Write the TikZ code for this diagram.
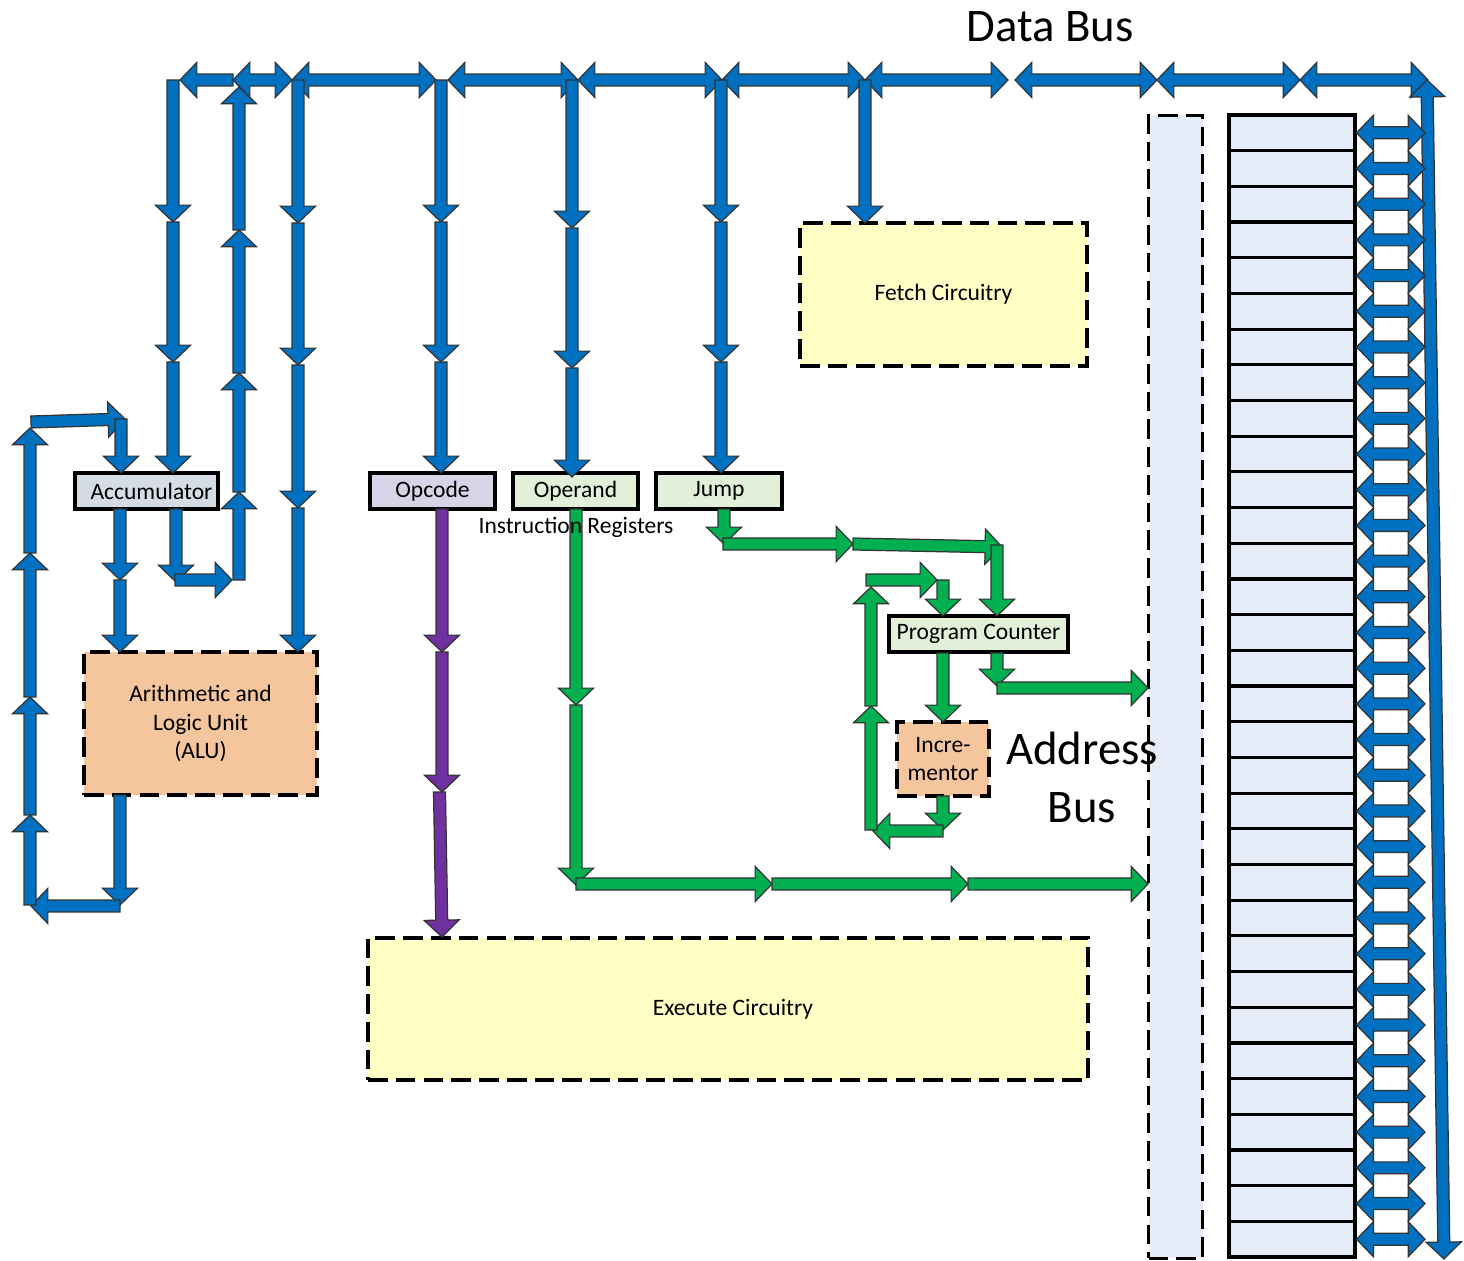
\documentclass[tikz,border=0pt]{standalone}
\usepackage{fontspec}
\setmainfont{Carlito}
\usepackage{tikz}
\usetikzlibrary{positioning,calc}
\usepackage{xcolor}

\definecolor{busblue}{HTML}{0070C0}
\definecolor{ctlgreen}{HTML}{00B050}
\definecolor{opcpurple}{HTML}{7030A0}
\definecolor{accfill}{HTML}{D6DCE5}
\definecolor{opcfill}{HTML}{D9D3E7}
\definecolor{regfill}{HTML}{E2F0D9}
\definecolor{alufill}{HTML}{F5C59D}
\definecolor{circfill}{HTML}{FFFFC5}
\definecolor{memfill}{HTML}{E5ECF7}

\newcommand\smalltext{\fontsize{6.7}{8.2}\selectfont}
\newcommand\bigtext{\fontsize{13.3}{16.5}\selectfont}

\tikzset{
  blockarrow/.style={draw=black!80,line width=0.35pt},
  regbox/.style={draw=black,line width=0.9pt,inner sep=0pt,minimum height=3.6mm,font=\smalltext},
  unitbox/.style={draw=black,line width=1pt,dash pattern=on 5.6pt off 2.3pt,inner sep=0pt,align=center,font=\smalltext},
  memcell/.style={draw=black,line width=0.9pt,fill=memfill,minimum width=12.6mm,minimum height=3.569mm,inner sep=0pt},
  buslabel/.style={font=\bigtext,align=center,inner sep=0pt},
}

% length and angle of a block arrow
\newcommand\arrowgeom[2]{%
  \path (#1) coordinate (arA) (#2) coordinate (arB);
  \pgfpointdiff{\pgfpointanchor{arA}{center}}{\pgfpointanchor{arB}{center}}%
  \pgfgetlastxy{\ardx}{\ardy}%
  \pgfmathsetmacro\arlen{veclen(\ardx,\ardy)}%
  \pgfmathsetmacro\arang{atan2(\ardy,\ardx)}%
  \pgfmathsetmacro\arneck{\arlen-4.8}}

\newcommand\blkarrow[3][busblue]{%
  \arrowgeom{#2}{#3}%
  \begin{scope}[shift={(arA)},rotate=\arang]
    \filldraw[blockarrow,fill=#1] (0pt,-1.7pt) -- (\arneck pt,-1.7pt) -- (\arneck pt,-5pt)
      -- (\arlen pt,0pt) -- (\arneck pt,5pt) -- (\arneck pt,1.7pt) -- (0pt,1.7pt) -- cycle;
  \end{scope}}

\newcommand\dblarrow[3][busblue]{%
  \arrowgeom{#2}{#3}%
  \begin{scope}[shift={(arA)},rotate=\arang]
    \filldraw[blockarrow,fill=#1] (0pt,0pt) -- (4.8pt,5pt) -- (4.8pt,1.7pt) -- (\arneck pt,1.7pt)
      -- (\arneck pt,5pt) -- (\arlen pt,0pt) -- (\arneck pt,-5pt) -- (\arneck pt,-1.7pt)
      -- (4.8pt,-1.7pt) -- (4.8pt,-5pt) -- cycle;
  \end{scope}}

% chain of block arrows through x/y points
\newcommand\arrowchain[3][busblue]{%
  \foreach \px/\py [count=\i] in {#3} {%
    \coordinate (#2-\i) at (\px,\py);
    \ifnum\i>1 \pgfmathtruncatemacro\j{\i-1}\blkarrow[#1]{#2-\j}{#2-\i}\fi}}

\begin{document}
\begin{tikzpicture}[x=0.1mm,y=-0.1mm]
\useasboundingbox (0,0) rectangle (1464,1261);

% boxes
\node[regbox,fill=accfill,minimum width=14.3mm] (acc) at (146.5,491) {\hspace{1mm}Accumulator};
\node[unitbox,fill=alufill,minimum width=23.3mm,minimum height=14.3mm] (alu) at (200.5,723.5) {Arithmetic and\\Logic Unit\\(ALU)\hspace{-1mm}};
\node[regbox,fill=opcfill,minimum width=12.5mm] (opc) at (432.5,491) {Opcode};
\node[regbox,fill=regfill,minimum width=12.5mm] (opd) at (575.5,491) {Operand};
\node[regbox,fill=regfill,minimum width=12.6mm] (jmp) at (719,491) {Jump};
\node[unitbox,fill=circfill,minimum width=28.7mm,minimum height=14.3mm] (fetch) at (943.5,294.5) {Fetch Circuitry};
\node[unitbox,fill=circfill,minimum width=72mm,minimum height=14.2mm] (exec) at (728,1009) {\hspace{1mm}Execute Circuitry};
\node[regbox,fill=regfill,minimum width=17.9mm] (pc) at (978.5,634) {Program Counter};
\node[unitbox,fill=alufill,minimum width=9.2mm,minimum height=7.4mm] (inc) at (943,759) {Incre-\\mentor};
\node[unitbox,fill=memfill,minimum width=5.4mm,minimum height=114.3mm] (abus) at (1175.5,687) {};
\foreach \i in {0,...,31}
  \node[memcell] (cell\i) at (1292,{115+35.69*(\i+0.5)}) {};

% data bus
\foreach \n/\x in {d0/180,d1/233,d2/292,d3/436,d4/448,d5/578,d6/722,d7/865,d8/1008,d9/1015,d10/1157,d11/1300,d12/1428}
  \coordinate (\n) at (\x,80);
\blkarrow{d1}{d0}
\foreach \a/\b in {d1/d2,d2/d3,d4/d5,d5/d6,d6/d7,d7/d8,d9/d10,d10/d11,d11/d12}
  {\dblarrow{\a}{\b}}
\coordinate (rtop) at (1427,80);
\coordinate (rbot) at (1444,1259);
\dblarrow{rtop}{rbot}
\foreach \i in {0,...,31}{
  \coordinate (tap\i) at (1425,{115+35.69*(\i+0.5)});
  \dblarrow{cell\i.east}{tap\i}}

% bus taps
\arrowchain{ca}{173/80,173/222,173/362,173/473}
\arrowchain{cb}{239/580,239/492,239/373,239/230,239/87}
\arrowchain{cc}{298/80,298/223,298/365,298/508,298/652}
\arrowchain{cd}{441/80,441/222,441/362,441/473}
\arrowchain{ce}{572/80,572/228,572/368,572/477}
\arrowchain{cf}{721/80,721/222,721/362,721/473}
\arrowchain{cg}{865/80,865/223}

% accumulator and ALU loop
\arrowchain{accalu}{120/509,120/580,120/652}
\arrowchain{accout}{176/509,176/582}
\arrowchain{accret}{175/580,232/580}
\arrowchain{aluout}{120/795,120/905}
\arrowchain{aluret}{120/906,31/906}
\arrowchain{loopup}{30/905,30/815,30/697,30/553,30/428}
\arrowchain{looptop}{31/422,125/419}
\arrowchain{loopin}{121/419,121/473}

% opcode to execute
\arrowchain[opcpurple]{opcx}{442/509,442/652,442/792}
\arrowchain[opcpurple]{opcy}{439.5/792,442/937}

% operand, jump and program counter
\arrowchain[ctlgreen]{opdv}{576/509,576/705,576/885}
\arrowchain[ctlgreen]{opdh}{576/884,772/884,968/884,1148/884}
\arrowchain[ctlgreen]{jmpv}{724/509,724/544}
\arrowchain[ctlgreen]{jmph}{723/544,853/544,1002/547}
\arrowchain[ctlgreen]{jmpd}{997/545,997/616}
\arrowchain[ctlgreen]{pcinc}{943/653,943/722}
\arrowchain[ctlgreen]{incout}{943/796,943/830}
\arrowchain[ctlgreen]{incret}{943/831,873/831}
\arrowchain[ctlgreen]{incup}{871/830,871/706,871/587}
\arrowchain[ctlgreen]{incpc}{866/580,937/580}
\arrowchain[ctlgreen]{incpcd}{943/580,943/616}
\arrowchain[ctlgreen]{pcad}{997/653,997/686}
\arrowchain[ctlgreen]{pcadh}{997/688,1148/688}

% labels
\node[font=\smalltext,inner sep=0pt] (irlbl) at (576,527) {Instruction Registers};
\node[buslabel] (dlbl) at (1050,27) {Data Bus};
\node[buslabel] (albl) at (1082,777) {Address\\Bus};
\end{tikzpicture}
\end{document}
